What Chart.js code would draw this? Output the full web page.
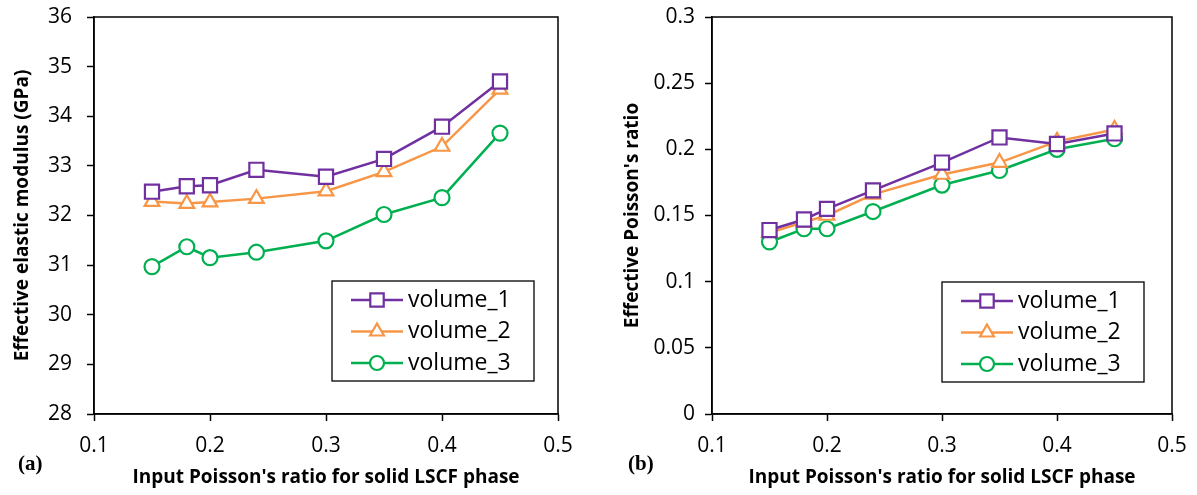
<!DOCTYPE html>
<html><head><meta charset="utf-8">
<script src="https://cdn.jsdelivr.net/npm/chart.js@4.4.1/dist/chart.umd.min.js"></script>
<style>
html,body{margin:0;padding:0;background:#fff;}
#wrap{position:relative;width:1197px;height:495px;}
.c{position:absolute;top:0;height:495px;}
</style></head><body>
<div id="wrap">
<div class="c" style="left:0;width:598px"><canvas id="a" width="598" height="495"></canvas></div>
<div class="c" style="left:598px;width:599px"><canvas id="b" width="599" height="495"></canvas></div>
</div>
<script>
const xVals = [0.15, 0.18, 0.2, 0.24, 0.3, 0.35, 0.4, 0.45];
const modV1 = [32.48, 32.59, 32.61, 32.92, 32.78, 33.14, 33.79, 34.70];
const modV2 = [32.28, 32.24, 32.27, 32.34, 32.49, 32.88, 33.39, 34.54];
const modV3 = [30.97, 31.37, 31.15, 31.26, 31.49, 32.02, 32.36, 33.66];
const prV1 = [0.139, 0.147, 0.155, 0.169, 0.190, 0.209, 0.204, 0.212];
const prV2 = [0.137, 0.145, 0.150, 0.166, 0.181, 0.190, 0.206, 0.215];
const prV3 = [0.130, 0.140, 0.140, 0.153, 0.173, 0.184, 0.200, 0.208];
const seriesNames = ['volume_1', 'volume_2', 'volume_3'];
const xTickVals = [0.1, 0.2, 0.3, 0.4, 0.5];
const modTickVals = [28, 29, 30, 31, 32, 33, 34, 35, 36];
const prTickVals = [0, 0.05, 0.1, 0.15, 0.2, 0.25, 0.3];
const prTickLabels = ['0', '0.05', '0.1', '0.15', '0.2', '0.25', '0.3'];

const colors = ['#7030A0', '#F79646', '#00B050'];
const styles = ['rect', 'triangle', 'circle'];
const radii = [10, 8.5, 7.5];
const FONT = '"Open Sans", Lato, sans-serif';

function pts(ys){ return xVals.map((x,i)=>({x:x,y:ys[i]})); }
function ds(ys, k){
  return {label: seriesNames[k], data: pts(ys), borderColor: colors[k], backgroundColor:'#fff',
    borderWidth: 2.5, pointStyle: styles[k], pointRadius: radii[k], pointBorderWidth: 2.2,
    pointBackgroundColor:'#fff', pointBorderColor: colors[k], tension:0};
}

const framePlugin = {
  id:'frame',
  afterDraw(chart, args, opts){
    const ctx = chart.ctx, a = chart.chartArea;
    ctx.save();
    ctx.strokeStyle = '#000'; ctx.lineWidth = 1.5;
    ctx.strokeRect(a.left, a.top, a.right - a.left, a.bottom - a.top);
    // legend
    const w = 202, h = 100;
    const lx = a.right - opts.rightInset - w, ly = a.bottom - opts.bottomInset - h;
    ctx.fillStyle = '#fff'; ctx.fillRect(lx, ly, w, h);
    ctx.lineWidth = 1.3; ctx.strokeStyle = '#000'; ctx.strokeRect(lx, ly, w, h);
    seriesNames.forEach((name,i)=>{
      const cy = ly + 19 + i*31.5;
      ctx.strokeStyle = colors[i]; ctx.lineWidth = 2.5;
      ctx.beginPath(); ctx.moveTo(lx+19, cy); ctx.lineTo(lx+71, cy); ctx.stroke();
      ctx.lineWidth = 2.2; ctx.fillStyle = '#fff';
      Chart.helpers.drawPoint(ctx, {pointStyle: styles[i], radius: radii[i]-0.5, borderWidth: 2.2, rotation:0}, lx+45, cy);
      ctx.fillStyle = '#000'; ctx.font = '23px ' + FONT; ctx.textAlign = 'left'; ctx.textBaseline = 'middle';
      ctx.fillText(name, lx + 76, cy);
    });
    // panel label
    ctx.fillStyle = '#000'; ctx.font = 'bold 21px "Liberation Serif", serif';
    ctx.textAlign = 'left'; ctx.textBaseline = 'middle';
    ctx.fillText(opts.tag, opts.tagX, 465);
    ctx.restore();
  }
};

function makeChart(id, datasets, yMin, yMax, yTicks, yLabels, yTitle, cfg){
  return new Chart(document.getElementById(id), {
    type:'line',
    data:{datasets: datasets},
    options:{
      responsive:false, animation:false, events:[],
      layout:{padding:{top:17, right:cfg.padRight, left:0, bottom:0}},
      plugins:{legend:{display:false}, tooltip:{enabled:false},
        frame:{tag:cfg.tag, tagX:cfg.tagX, rightInset:cfg.rightInset, bottomInset:cfg.bottomInset}},
      scales:{
        x:{type:'linear', min:0.1, max:0.5,
          afterBuildTicks(s){ s.ticks = xTickVals.map(v=>({value:v})); },
          afterFit(s){ s.height = 81; s.paddingLeft = 0; s.paddingRight = 0; },
          grid:{display:true, drawOnChartArea:false, drawTicks:true, tickLength:7, color:'#000', tickWidth:1.5},
          border:{display:true, color:'#000', width:1.5},
          ticks:{padding:12, color:'#000', font:{size:21, family:FONT}, maxRotation:0,
            callback:(v)=>String(v)},
          title:{display:true, text:"Input Poisson's ratio for solid LSCF phase", color:'#000',
            font:{size:19, weight:'bold', family:FONT}, padding:{top:0, bottom:6}}
        },
        y:{type:'linear', min:yMin, max:yMax,
          afterBuildTicks(s){ s.ticks = yTicks.map(v=>({value:v})); },
          afterFit(s){ s.width = cfg.yWidth; s.paddingTop = 0; s.paddingBottom = 0; },
          grid:{display:true, drawOnChartArea:false, drawTicks:true, tickLength:7, color:'#000', tickWidth:1.5},
          border:{display:true, color:'#000', width:1.5},
          ticks:{padding:cfg.yTickPad, color:'#000', font:{size:21, family:FONT},
            callback:(v)=>{ const i = yTicks.indexOf(v); return i>=0 ? yLabels[i] : ''; }},
          title:{display:true, text:yTitle, color:'#000',
            font:{size:19, weight:'bold', family:FONT}, padding:{top:cfg.yTitlePad, bottom:0}}
        }
      }
    },
    plugins:[framePlugin]
  });
}

makeChart('a', [ds(modV1,0), ds(modV2,1), ds(modV3,2)], 28, 36, modTickVals,
  modTickVals.map(String), 'Effective elastic modulus (GPa)',
  {padRight:40, yWidth:94, yTickPad:15, yTitlePad:11, tag:'(a)', tagX:18, rightInset:24, bottomInset:33});
makeChart('b', [ds(prV1,0), ds(prV2,1), ds(prV3,2)], 0, 0.3, prTickVals,
  prTickLabels, "Effective Poisson's ratio",
  {padRight:25, yWidth:114, yTickPad:10, yTitlePad:23, tag:'(b)', tagX:30, rightInset:28, bottomInset:32});
</script>
</body></html>
